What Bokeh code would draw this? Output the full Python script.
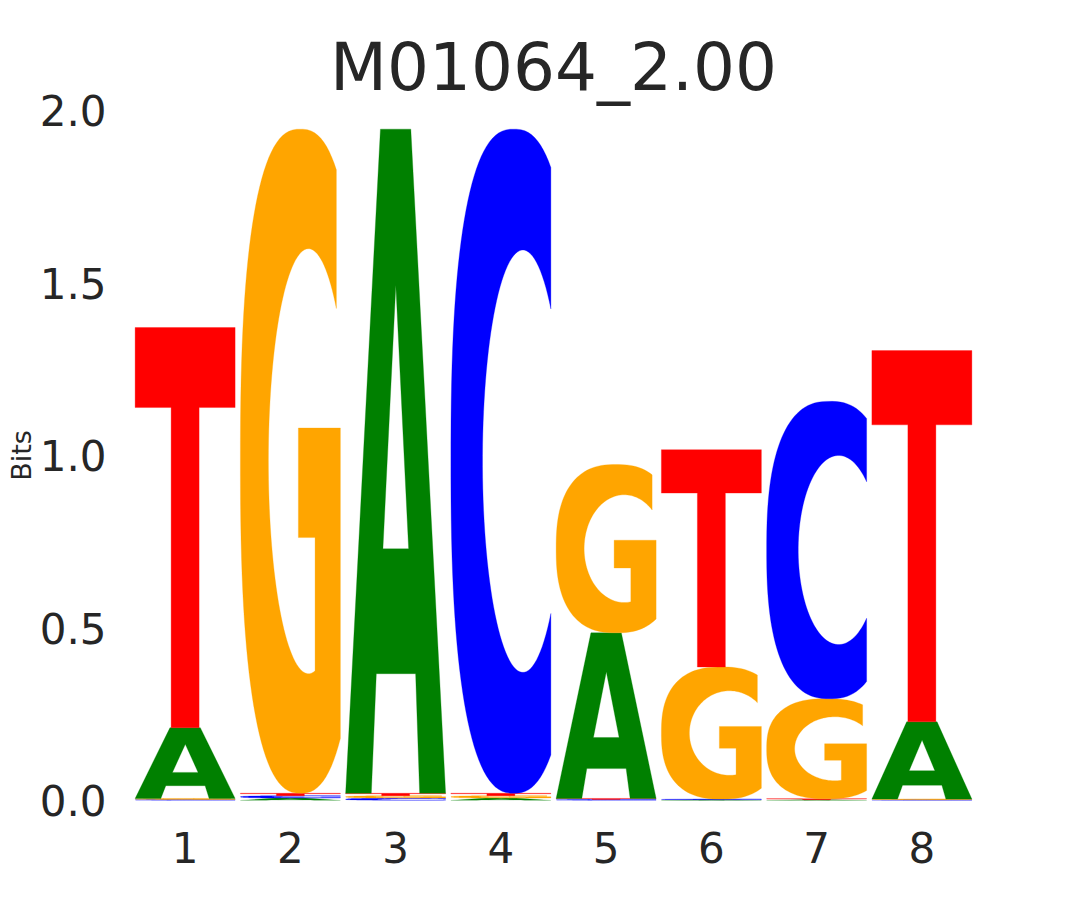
import numpy as np
from bokeh.plotting import figure
from bokeh.models import Range1d, FixedTicker, ColumnDataSource
from bokeh.embed import file_html
from bokeh.resources import INLINE

# ---------------- data (bits per letter at each position) ----------------
positions = [1, 2, 3, 4, 5, 6, 7, 8]
letters = ["A", "C", "G", "T"]
A_bits = [0.205, 0.007, 1.925, 0.007, 0.480, 0.002, 0.002, 0.224]
C_bits = [0.003, 0.007, 0.007, 1.925, 0.003, 0.002, 0.862, 0.002]
G_bits = [0.003, 1.925, 0.007, 0.007, 0.488, 0.383, 0.290, 0.002]
T_bits = [1.160, 0.007, 0.007, 0.007, 0.003, 0.630, 0.003, 1.076]
y_ticks = [0.0, 0.5, 1.0, 1.5, 2.0]
y_tick_labels = ["0.0", "0.5", "1.0", "1.5", "2.0"]
x_tick_labels = ["1", "2", "3", "4", "5", "6", "7", "8"]
title_text = "M01064_2.00"
y_label_text = "Bits"

colors = {"A": "#008000", "C": "#0000ff", "G": "#ffa500", "T": "#ff0000"}
bits = {"A": A_bits, "C": C_bits, "G": G_bits, "T": T_bits}

# ---------------- glyph outlines in a unit box ----------------
def superellipse(cx, cy, rx, ry, n, t):
    c, s = np.cos(t), np.sin(t)
    x = cx + rx * np.sign(c) * np.abs(c) ** (2.0 / n)
    y = cy + ry * np.sign(s) * np.abs(s) ** (2.0 / n)
    return x, y

def angle_at_x(cx, rx, n, xv):
    r = np.clip((xv - cx) / rx, -1, 1)
    return np.arccos(np.abs(r) ** (n / 2.0))

def shape_T():
    xs = [0, 1, 1, 0.64, 0.64, 0.36, 0.36, 0]
    ys = [1, 1, 0.8, 0.8, 0, 0, 0.8, 0.8]
    return [(xs, ys)]

def shape_A():
    xs = [0, 0.257, 0.307, 0.70, 0.74, 1, 0.652, 0.348]
    ys = [0, 0, 0.18, 0.18, 0, 0, 1, 1]
    hx = [0.373, 0.63, 0.502]
    hy = [0.368, 0.368, 0.765]
    return [(xs, ys), (hx, hy)]

def shape_C():
    ocx, ocy, orx, ory, on = 0.63, 0.5, 0.63, 0.5, 2.5
    icx, icy, irx, iry, inn = 0.72, 0.5, 0.404, 0.318, 2.0
    t0 = angle_at_x(ocx, orx, on, 1.0)
    to = np.linspace(t0, 2 * np.pi - t0, 90)
    ox, oy = superellipse(ocx, ocy, orx, ory, on, to)
    t1 = angle_at_x(icx, irx, inn, 1.0)
    ti = np.linspace(2 * np.pi - t1, t1, 90)
    ix, iy = superellipse(icx, icy, irx, iry, inn, ti)
    return [(list(np.r_[ox, ix]), list(np.r_[oy, iy]))]

def shape_G():
    ocx, ocy, orx, ory, on = 0.6, 0.5, 0.6, 0.5, 2.5
    icx, icy, irx, iry, inn = 0.681, 0.5, 0.401, 0.32, 2.0
    ts = angle_at_x(ocx, orx, on, 0.96)
    te = angle_at_x(ocx, orx, on, 1.0)
    to = np.linspace(ts, 2 * np.pi - te, 90)
    ox, oy = superellipse(ocx, ocy, orx, ory, on, to)
    bx = [1.0, 1.0, 0.58, 0.58, 0.747]
    by = [oy[-1], 0.55, 0.55, 0.385, 0.385]
    tst = 2 * np.pi - angle_at_x(icx, irx, inn, 0.747)
    ten = angle_at_x(icx, irx, inn, 0.96)
    ti = np.linspace(tst, ten, 90)
    ix, iy = superellipse(icx, icy, irx, iry, inn, ti)
    return [(list(np.r_[ox, bx, ix]), list(np.r_[oy, by, iy]))]

shapes = {"A": shape_A(), "C": shape_C(), "G": shape_G(), "T": shape_T()}
LETTER_W = 0.95

# ---------------- figure ----------------
p = figure(
    output_backend="svg", toolbar_location=None,
    frame_width=842, frame_height=690,
    min_border_left=132, min_border_right=90,
    min_border_top=110, min_border_bottom=92,
    x_range=Range1d(0.5, 8.5), y_range=Range1d(0.0, 2.0),
    title=title_text,
)
p.background_fill_color = "white"
p.border_fill_color = "white"
p.outline_line_color = None
p.grid.visible = False

p.title.align = "center"
p.title.text_font = "DejaVu Sans"
p.title.text_font_size = "66px"
p.title.text_font_style = "normal"
p.title.text_color = "#262626"
p.title.standoff = 10

for ax in (p.xaxis[0], p.yaxis[0]):
    ax.axis_line_color = None
    ax.major_tick_line_color = None
    ax.minor_tick_line_color = None
    ax.major_tick_out = 0
    ax.major_tick_in = 0
    ax.major_label_text_font = "DejaVu Sans"
    ax.major_label_text_font_size = "42px"
    ax.major_label_text_color = "#262626"

p.xaxis.ticker = FixedTicker(ticks=positions)
p.xaxis.major_label_overrides = {pos: lab for pos, lab in zip(positions, x_tick_labels)}
p.xaxis.major_label_standoff = 31
p.yaxis.ticker = FixedTicker(ticks=y_ticks)
p.yaxis.major_label_overrides = {t: lab for t, lab in zip(y_ticks, y_tick_labels)}
p.yaxis.major_label_standoff = 26

p.yaxis.axis_label = y_label_text
p.yaxis.axis_label_text_font = "DejaVu Sans"
p.yaxis.axis_label_text_font_size = "27px"
p.yaxis.axis_label_text_font_style = "normal"
p.yaxis.axis_label_text_color = "#262626"
p.yaxis.axis_label_standoff = 0

# ---------------- letters ----------------
data = {"xs": [], "ys": [], "color": []}
for i, pos in enumerate(positions):
    col = sorted(letters, key=lambda L: bits[L][i])
    base = 0.0
    for L in col:
        h = bits[L][i]
        x0 = pos - LETTER_W / 2
        rings_x, rings_y = [], []
        for (ux, uy) in shapes[L]:
            rings_x.append([x0 + LETTER_W * u for u in ux])
            rings_y.append([base + h * v for v in uy])
        data["xs"].append([rings_x])
        data["ys"].append([rings_y])
        data["color"].append(colors[L])
        base += h

src = ColumnDataSource(data)
p.multi_polygons(xs="xs", ys="ys", source=src, fill_color="color",
                 line_color="color", line_width=0.3)

open("out.html", "w").write(file_html(p, INLINE))
